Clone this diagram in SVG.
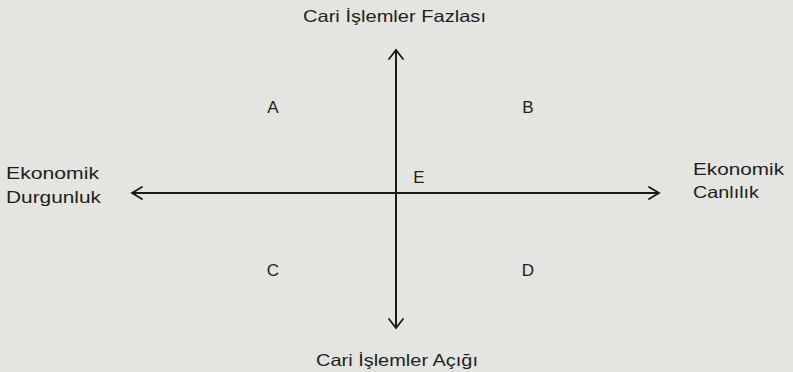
<svg xmlns="http://www.w3.org/2000/svg" width="793" height="372" viewBox="0 0 793 372">
<style>
.t{font-family:"Liberation Sans",Arial,sans-serif;font-size:16.5px;fill:#1e1e1e}
.q{font-family:"Liberation Sans",Arial,sans-serif;font-size:17px;fill:#1e1e1e;text-anchor:middle}
.ax{stroke:#1a1a1a;stroke-width:2;fill:none}
.ah{stroke:#1a1a1a;stroke-width:1.8;fill:none;stroke-linecap:round;stroke-linejoin:miter}
</style>
<rect width="793" height="372" fill="#e4e4e1"/>
<g id="connectors">
<line class="ax" x1="396" y1="50" x2="396" y2="328"/>
<line class="ax" x1="132" y1="193" x2="659" y2="193"/>
<path class="ah" d="M389,59 L396,50 L403,59"/>
<path class="ah" d="M389,319 L396,328 L403,319"/>
<path class="ah" d="M142,187 L132,193 L142,199"/>
<path class="ah" d="M649,187 L659,193 L649,199"/>
</g>
<g id="top-label"><text class="t" x="303" y="22" textLength="183" lengthAdjust="spacingAndGlyphs">Cari İşlemler Fazlası</text></g>
<g id="bottom-label"><text class="t" x="316" y="366" textLength="162" lengthAdjust="spacingAndGlyphs">Cari İşlemler Açığı</text></g>
<g id="left-label">
<text class="t" x="6" y="179" textLength="93" lengthAdjust="spacingAndGlyphs">Ekonomik</text>
<text class="t" x="6" y="203" textLength="95" lengthAdjust="spacingAndGlyphs">Durgunluk</text>
</g>
<g id="right-label">
<text class="t" x="693" y="175" textLength="91" lengthAdjust="spacingAndGlyphs">Ekonomik</text>
<text class="t" x="693" y="198" textLength="66" lengthAdjust="spacingAndGlyphs">Canlılık</text>
</g>
<g id="A"><text class="q" x="273" y="113">A</text></g>
<g id="B"><text class="q" x="528" y="113">B</text></g>
<g id="C"><text class="q" x="273" y="276">C</text></g>
<g id="D"><text class="q" x="528" y="276">D</text></g>
<g id="E"><text class="q" x="419" y="183">E</text></g>
</svg>
